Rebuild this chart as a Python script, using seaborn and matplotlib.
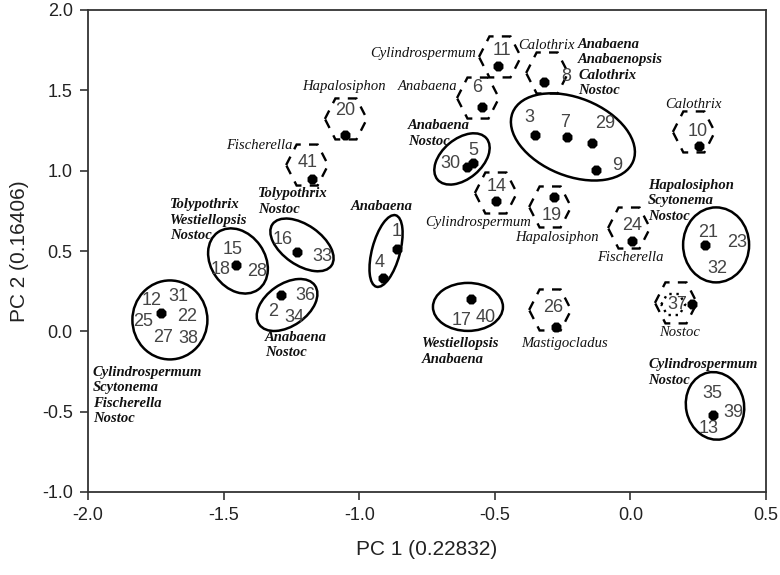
import matplotlib
matplotlib.use("Agg")
import matplotlib.pyplot as plt
import matplotlib.transforms as mtransforms
from matplotlib import font_manager
from matplotlib.patches import Ellipse, Polygon
import seaborn as sns

# PCA scores, one dot per strain (or per group of strains with the same profile)
pc1 = [-1.052, -1.174, -0.488, -0.319, -0.547, -0.352, -0.234, -0.142, -0.127,
       0.253, -0.580, -0.603, -0.496, -0.282, 0.006, 0.275, -0.588, -0.274,
       0.227, -1.454, -1.229, -0.861, -0.912, -1.731, -1.288, 0.305]
pc2 = [1.222, 0.948, 1.652, 1.552, 1.396, 1.222, 1.210, 1.172, 1.004,
       1.154, 1.048, 1.023, 0.811, 0.836, 0.563, 0.538, 0.202, 0.027,
       0.170, 0.413, 0.494, 0.513, 0.332, 0.115, 0.227, -0.520]

# strain numbers written next to the dots
strain_ids = ["20", "41", "11", "8", "6", "3", "7", "29", "9", "10", "5", "30",
              "14", "19", "24", "21", "23", "32", "17", "40", "26", "37", "15",
              "18", "28", "16", "33", "1", "4", "12", "31", "25", "22", "27",
              "38", "36", "2", "34", "35", "39", "13"]
id_x = [-1.052, -1.189, -0.473, -0.237, -0.566, -0.374, -0.241, -0.094, -0.049,
        0.249, -0.580, -0.662, -0.492, -0.289, 0.006, 0.286, 0.393, 0.319,
        -0.621, -0.532, -0.285, 0.172, -1.465, -1.510, -1.377, -1.281, -1.137,
        -0.861, -0.923, -1.764, -1.668, -1.797, -1.635, -1.723, -1.631, -1.200,
        -1.318, -1.240, 0.301, 0.378, 0.290]
id_y = [1.372, 1.048, 1.751, 1.583, 1.515, 1.334, 1.297, 1.291, 1.035,
        1.241, 1.123, 1.042, 0.899, 0.718, 0.656, 0.615, 0.550, 0.388,
        0.065, 0.083, 0.146, 0.164, 0.510, 0.382, 0.370, 0.569, 0.463,
        0.619, 0.426, 0.195, 0.214, 0.059, 0.090, -0.041, -0.047, 0.220,
        0.121, 0.083, -0.388, -0.508, -0.607]

# single strains (dashed hexagons) and their genus
single_genus = ["Hapalosiphon", "Fischerella", "Cylindrospermum", "Calothrix",
                "Anabaena", "Calothrix", "Cylindrospermum", "Hapalosiphon",
                "Fischerella", "Mastigocladus", "Nostoc"]
single_x = [-1.056, -1.244, -0.765, -0.414, -0.636, 0.234, -0.562, -0.271,
            -0.001, -0.241, 0.183]
single_y = [1.521, 1.154, 1.732, 1.776, 1.521, 1.409, 0.675, 0.587,
            0.457, -0.078, -0.010]
single_ha = ["center", "right", "center", "left", "right", "center", "center",
             "center", "center", "center", "center"]
hex_x = [-1.049, -1.192, -0.481, -0.307, -0.562, 0.234, -0.496, -0.296,
         -0.005, -0.296, 0.168]
hex_y = [1.322, 1.035, 1.708, 1.608, 1.452, 1.241, 0.861, 0.774,
         0.643, 0.133, 0.177]

# clusters (solid ellipses) and the genera they hold
cluster_genera = ["Anabaena\nAnabaenopsis\nCalothrix\nNostoc",
                  "Anabaena\nNostoc",
                  "Tolypothrix\nWestiellopsis\nNostoc",
                  "Tolypothrix\nNostoc",
                  "Anabaena",
                  "Cylindrospermum\nScytonema\nFischerella\nNostoc",
                  "Anabaena\nNostoc",
                  "Westiellopsis\nAnabaena",
                  "Hapalosiphon\nScytonema\nNostoc",
                  "Cylindrospermum\nNostoc"]
cluster_text_x = [-0.193, -0.820, -1.698, -1.373, -0.916, -1.982, -1.347,
                  -0.768, 0.065, 0.065]
cluster_text_y = [1.642, 1.231, 0.690, 0.808, 0.774, -0.399, -0.085,
                  -0.125, 0.812, -0.256]
cluster_ha = ["left", "left", "left", "left", "center", "left", "left",
              "left", "left", "left"]
ell_x = [-0.212, -0.621, -1.447, -1.211, -0.901, -1.698, -1.266, -0.599,
         0.316, 0.312]
ell_y = [1.210, 1.073, 0.438, 0.538, 0.500, 0.071, 0.164, 0.152,
         0.538, -0.464]
# ellipse sizes in pixels: width, height, angle
ell_w = [130, 64, 70, 72, 74, 75, 68, 70, 66, 58]
ell_h = [78, 40, 54, 40, 28, 79, 42, 48, 75, 68]
ell_a = [-22, 40, -55, -35, 75, 0, 35, 0, 0, 12]

sns.set_theme(style="ticks")
names = {f.name for f in font_manager.fontManager.ttflist}
sans = "Liberation Sans Narrow" if "Liberation Sans Narrow" in names else "Liberation Sans"
plt.rcParams["font.family"] = [sans, "DejaVu Sans"]
plt.rcParams["axes.unicode_minus"] = False

fig = plt.figure(figsize=(7.8, 5.75), dpi=100)
ax = fig.add_axes([88 / 780, 1 - 492 / 575, 678 / 780, 482 / 575])

sns.scatterplot(x=pc1, y=pc2, ax=ax, color="black", marker="8", s=60,
                edgecolor="black", linewidth=0, zorder=5)

ax.set_xlim(-2.0, 0.5)
ax.set_ylim(-1.0, 2.0)
ax.set_xticks([-2.0, -1.5, -1.0, -0.5, 0.0, 0.5])
ax.set_yticks([-1.0, -0.5, 0.0, 0.5, 1.0, 1.5, 2.0])
ax.set_xticklabels([f"{v:.1f}" for v in ax.get_xticks()])
ax.set_yticklabels([f"{v:.1f}" for v in ax.get_yticks()])
ax.tick_params(direction="out", length=6, width=1.1, colors="#222222",
               labelsize=13, pad=5)
for side in ["left", "right", "top", "bottom"]:
    ax.spines[side].set_visible(True)
    ax.spines[side].set_color("#333333")
    ax.spines[side].set_linewidth(1.3)

ax.set_xlabel("PC 1 (0.22832)", fontsize=15, color="#222222", labelpad=11)
ax.set_ylabel("PC 2 (0.16406)", fontsize=15, color="#222222", labelpad=9)


def at_point(cx, cy):
    # pixel-sized shape anchored on a data position
    return (mtransforms.Affine2D().scale(1 / fig.dpi) + fig.dpi_scale_trans
            + mtransforms.ScaledTranslation(cx, cy, ax.transData))


def hexagon(cx, cy, w, h, ls):
    verts = [(-w / 2, 0), (-w / 4, h / 2), (w / 4, h / 2), (w / 2, 0),
             (w / 4, -h / 2), (-w / 4, -h / 2)]
    ax.add_patch(Polygon(verts, closed=True, fill=False, ec="black", lw=1.7,
                         ls=ls, transform=at_point(cx, cy), zorder=3))


for cx, cy in zip(hex_x, hex_y):
    hexagon(cx, cy, 42, 41, (0, (4, 3.5)))
# strain 37 sits inside a second, dotted hexagon
hexagon(hex_x[-1] - 0.01, hex_y[-1] - 0.01, 24, 21, (0, (1, 2)))

for cx, cy, w, h, a in zip(ell_x, ell_y, ell_w, ell_h, ell_a):
    ax.add_patch(Ellipse((0, 0), w, h, angle=a, fill=False, ec="black", lw=1.8,
                         transform=at_point(cx, cy), zorder=3))

for t, x, y in zip(strain_ids, id_x, id_y):
    ax.text(x, y, t, fontsize=13, color="#444444", ha="center", va="center",
            zorder=4)

serif = "Liberation Serif"
for t, x, y, ha in zip(single_genus, single_x, single_y, single_ha):
    ax.text(x, y, t, family=serif, style="italic", fontsize=10.5,
            color="#111111", ha=ha, va="center", zorder=4)

for t, x, y, ha in zip(cluster_genera, cluster_text_x, cluster_text_y, cluster_ha):
    ax.text(x, y, t, family=serif, style="italic", weight="bold",
            fontsize=10.5, color="#111111", ha=ha, va="center",
            linespacing=1.25, zorder=4)

fig.savefig("out.png", dpi=100)
